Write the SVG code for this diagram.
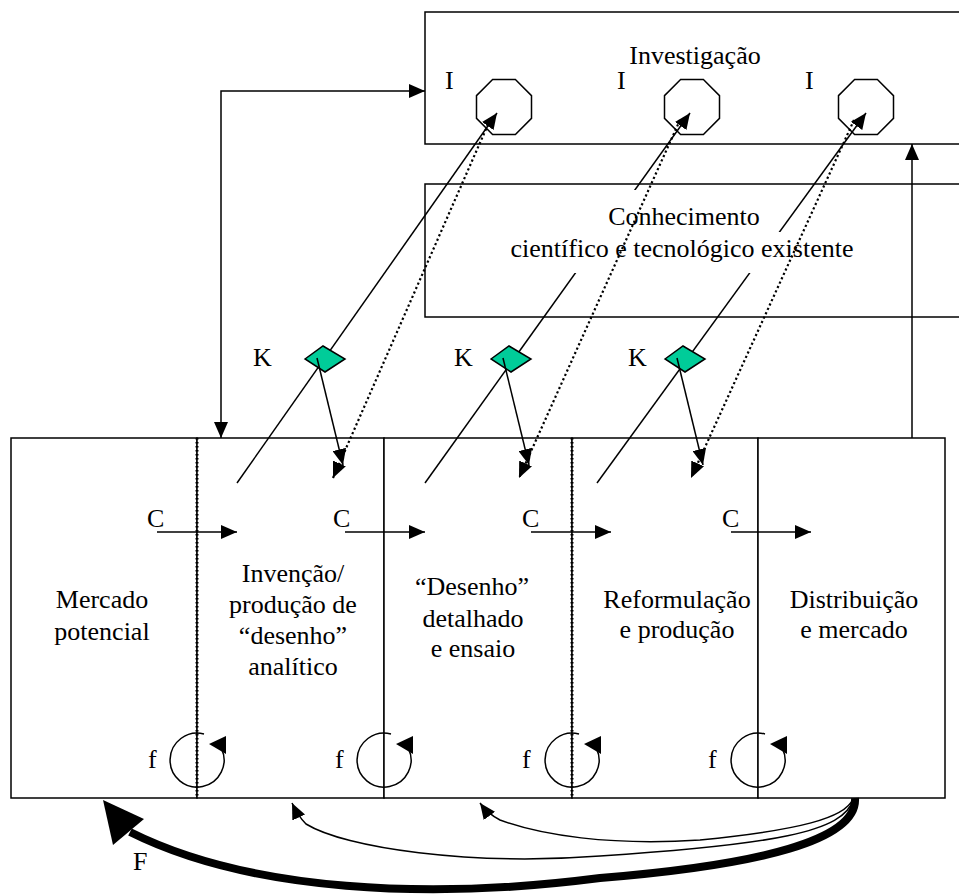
<svg xmlns="http://www.w3.org/2000/svg" width="959" height="896" viewBox="0 0 959 896" font-family="'Liberation Serif', 'Times New Roman', Times, serif">
  <style>
    .box { fill: #ffffff; stroke: #000000; stroke-width: 1.5; }
    text { font-family: 'Liberation Serif', 'Times New Roman', Times, serif; font-size: 26px; fill: #000000; }
    .mid { text-anchor: middle; }
    .ln { fill: none; stroke: #000000; stroke-width: 1.5; }
    .dot { fill: none; stroke: #000000; stroke-width: 2.2; stroke-dasharray: 2.2 2.6; }
    .divdot { fill: none; stroke: #000000; stroke-width: 3; stroke-dasharray: 1.5 2.5; }
    .oct { fill: #ffffff; stroke: #000000; stroke-width: 1.5; }
    .dia { fill: #00cc99; stroke: #000000; stroke-width: 1.5; }
    .thick { fill: none; stroke: #000000; stroke-width: 8; }
  </style>
  <defs>
    <marker id="ah" viewBox="0 0 16 14" refX="16" refY="7" markerWidth="16" markerHeight="14" orient="auto-start-reverse" markerUnits="userSpaceOnUse">
      <path d="M0,0 L16,7 L0,14 z" fill="#000000"/>
    </marker>
    <polygon id="oct" class="oct" points="11.4,-27.5 27.5,-11.4 27.5,11.4 11.4,27.5 -11.4,27.5 -27.5,11.4 -27.5,-11.4 -11.4,-27.5"/>
    <polygon id="dia" class="dia" points="-20,0 -2,-13 20,0 0,13"/>
    <g id="loop">
      <path class="ln" d="M7,-26 A27,27 0 1 0 24.5,-11.4"/>
      <polygon points="12,-16 29,-24 29,-6" fill="#000000"/>
    </g>
  </defs>

  <!-- Research block -->
  <g id="investigacao">
    <rect class="box" x="425" y="12" width="560" height="132"/>
    <text class="mid" x="695" y="64">Investigação</text>
    <text x="445" y="89">I</text>
    <text x="617" y="89">I</text>
    <text x="805" y="89">I</text>
    <use href="#oct" x="504" y="107"/>
    <use href="#oct" x="692" y="107"/>
    <use href="#oct" x="866" y="107"/>
  </g>

  <!-- Existing knowledge block (frame only; text is drawn above the solid links) -->
  <g id="conhecimento-frame">
    <rect class="box" x="425" y="184" width="560" height="133"/>
  </g>

  <!-- Chain-linked stages -->
  <g id="mercado-potencial">
    <rect class="box" x="11" y="438" width="186" height="360"/>
    <text class="mid" x="102" y="608">Mercado</text>
    <text class="mid" x="102" y="640">potencial</text>
  </g>
  <g id="invencao">
    <rect class="box" x="197" y="438" width="187" height="360"/>
    <text class="mid" x="293" y="582">Invenção/</text>
    <text class="mid" x="293" y="613">produção de</text>
    <text class="mid" x="293" y="644">“desenho”</text>
    <text class="mid" x="293" y="675">analítico</text>
  </g>
  <g id="desenho-detalhado">
    <rect class="box" x="384" y="438" width="188" height="360"/>
    <text class="mid" x="472" y="595">“Desenho”</text>
    <text class="mid" x="473" y="627">detalhado</text>
    <text class="mid" x="473" y="657">e ensaio</text>
  </g>
  <g id="reformulacao">
    <rect class="box" x="572" y="438" width="186" height="360"/>
    <text class="mid" x="677" y="608">Reformulação</text>
    <text class="mid" x="677" y="638">e produção</text>
  </g>
  <g id="distribuicao">
    <rect class="box" x="758" y="438" width="187" height="360"/>
    <text class="mid" x="854" y="608">Distribuição</text>
    <text class="mid" x="854" y="638">e mercado</text>
  </g>
  <g id="dividers">
    <line class="divdot" x1="197" y1="438" x2="197" y2="798"/>
    <line class="divdot" x1="572" y1="438" x2="572" y2="798"/>
  </g>

  <g id="connectors">
    <!-- links from stages up to research, through the knowledge nodes -->
    <line class="ln" x1="237" y1="483" x2="497" y2="113" marker-end="url(#ah)"/>
    <line class="ln" x1="425" y1="483" x2="690" y2="113" marker-end="url(#ah)"/>
    <line class="ln" x1="597" y1="483" x2="866" y2="113" marker-end="url(#ah)"/>

    <!-- market to research, both ways -->
    <path class="ln" d="M221,438 L221,91 L425,91" marker-start="url(#ah)" marker-end="url(#ah)"/>
    <!-- distribution up to research -->
    <line class="ln" x1="912" y1="438" x2="912" y2="144" marker-end="url(#ah)"/>

    <!-- central chain C -->
    <line class="ln" x1="157" y1="532" x2="237" y2="532" marker-end="url(#ah)"/>
    <line class="ln" x1="345" y1="532" x2="425" y2="532" marker-end="url(#ah)"/>
    <line class="ln" x1="531" y1="532" x2="611" y2="532" marker-end="url(#ah)"/>
    <line class="ln" x1="731" y1="532" x2="811" y2="532" marker-end="url(#ah)"/>

    <!-- feedback loops f -->
    <use href="#loop" x="197" y="760"/>
    <use href="#loop" x="384" y="760"/>
    <use href="#loop" x="572" y="760"/>
    <use href="#loop" x="758" y="760"/>

    <!-- feedback curves from distribution -->
    <path class="ln" d="M853,799 C846,832 770,845 600,856 C470,866 345,848 306,824 Q298,816 292,803" marker-end="url(#ah)"/>
    <path class="ln" d="M853,799 C845,818 800,830 700,840 C610,846 540,835 500,820 Q488,814 480,803" marker-end="url(#ah)"/>
    <!-- overall feedback F -->
    <path class="thick" d="M855,798 C858,840 760,865 600,878 C430,900 250,892 130,832"/>
    <polygon points="103,800 113,845 144,819" fill="#000000"/>
  </g>

  <!-- Existing knowledge text over its backing -->
  <g id="conhecimento">
    <rect x="598" y="190" width="178" height="42" fill="#ffffff"/>
    <rect x="500" y="232" width="364" height="41" fill="#ffffff"/>
    <text class="mid" x="684" y="225">Conhecimento</text>
    <text class="mid" x="682" y="257">científico e tecnológico existente</text>
  </g>

  <g id="connectors-dotted">
    <line class="dot" x1="490" y1="120" x2="333" y2="478" marker-end="url(#ah)"/>
    <line class="dot" x1="680" y1="120" x2="519" y2="478" marker-end="url(#ah)"/>
    <line class="dot" x1="854" y1="120" x2="691" y2="478" marker-end="url(#ah)"/>
  </g>

  <!-- knowledge nodes K -->
  <g id="k1">
    <use href="#dia" x="325" y="359"/>
    <text x="253" y="366">K</text>
  </g>
  <g id="k2">
    <use href="#dia" x="511" y="359"/>
    <text x="454" y="366">K</text>
  </g>
  <g id="k3">
    <use href="#dia" x="685" y="359"/>
    <text x="628" y="366">K</text>
  </g>
  <g id="connectors-k">
    <line class="ln" x1="317" y1="358" x2="343" y2="465" marker-end="url(#ah)"/>
    <line class="ln" x1="503" y1="358" x2="529" y2="465" marker-end="url(#ah)"/>
    <line class="ln" x1="677" y1="358" x2="703" y2="465" marker-end="url(#ah)"/>
  </g>

  <!-- labels on links -->
  <g id="link-labels">
    <text x="147" y="527">C</text>
    <text x="333" y="527">C</text>
    <text x="522" y="527">C</text>
    <text x="722" y="527">C</text>
    <text x="148" y="768">f</text>
    <text x="335" y="768">f</text>
    <text x="522" y="768">f</text>
    <text x="708" y="768">f</text>
    <text x="133" y="870">F</text>
  </g>
</svg>
